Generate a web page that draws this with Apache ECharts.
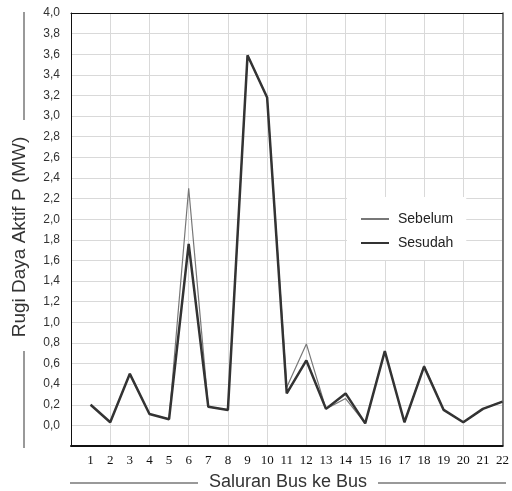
<!DOCTYPE html>
<html>
<head>
<meta charset="utf-8">
<script src="https://cdn.jsdelivr.net/npm/echarts@6/dist/echarts.min.js"></script>
<style>
html,body{margin:0;padding:0;background:#fff;}
#chart{width:512px;height:491px;}
</style>
</head>
<body>
<div id="chart"></div>
<script>
const categories = ['', '1','2','3','4','5','6','7','8','9','10','11','12','13','14','15','16','17','18','19','20','21','22'];
const sebelum = [null, 0.20, 0.03, 0.50, 0.11, 0.06, 2.30, 0.18, 0.15, 3.59, 3.18, 0.37, 0.79, 0.16, 0.26, 0.02, 0.72, 0.03, 0.58, 0.15, 0.03, 0.16, 0.23];
const sesudah = [null, 0.20, 0.03, 0.50, 0.11, 0.06, 1.76, 0.18, 0.15, 3.59, 3.18, 0.31, 0.63, 0.16, 0.31, 0.02, 0.72, 0.03, 0.57, 0.15, 0.03, 0.16, 0.23];
const seriesNames = ['Sebelum', 'Sesudah'];
const yTitle = 'Rugi Daya Aktif P (MW)';
const xTitle = 'Saluran Bus ke Bus';

const chart = echarts.init(document.getElementById('chart'));
chart.setOption({
  animation: false,
  backgroundColor: '#fff',
  grid: {left: 71, right: 6, top: 13, bottom: 45},
  legend: {
    orient: 'vertical', left: 347, top: 197,
    backgroundColor: '#fff',
    padding: [15, 13, 10, 13],
    itemWidth: 28, itemHeight: 14, itemGap: 10,
    itemStyle: {opacity: 0},
    textStyle: {fontFamily: 'Liberation Sans', fontSize: 14, color: '#222', padding: [0,0,0,4]},
    data: seriesNames
  },
  xAxis: [{
    type: 'category', data: categories, boundaryGap: false,
    axisLine: {onZero: false, lineStyle: {color: '#111', width: 2}},
    axisTick: {show: false},
    axisLabel: {interval: 0, fontFamily: 'Liberation Serif', fontSize: 13, color: '#111', margin: 8},
    splitLine: {show: true, interval: function (i) { return i % 2 === 0; }, lineStyle: {color: '#d9d9d9', width: 1}}
  }, {
    type: 'category', data: categories, boundaryGap: false, position: 'top',
    axisLine: {onZero: false, lineStyle: {color: '#111', width: 1}},
    axisTick: {show: false}, axisLabel: {show: false}, splitLine: {show: false}
  }],
  yAxis: [{
    type: 'value', min: -0.2, max: 4.0, interval: 0.2,
    axisLine: {show: true, onZero: false, lineStyle: {color: '#111', width: 1}},
    axisTick: {show: false},
    axisLabel: {
      fontFamily: 'Liberation Sans', fontSize: 12, color: '#333', margin: 11,
      formatter: function (v) { return v < -0.05 ? '' : v.toFixed(1).replace('.', ','); }
    },
    splitLine: {show: true, lineStyle: {color: '#d9d9d9', width: 1}}
  }, {
    type: 'value', min: -0.2, max: 4.0, interval: 0.2, position: 'right',
    axisLine: {show: true, onZero: false, lineStyle: {color: '#555', width: 1.5}},
    axisTick: {show: false}, axisLabel: {show: false}, splitLine: {show: false}
  }],
  graphic: [
    {type: 'text', x: 20, y: 237, rotation: Math.PI / 2,
     style: {text: yTitle, font: '19px "Liberation Sans"', fill: '#333', align: 'center', verticalAlign: 'middle'}},
    {type: 'line', shape: {x1: 24, y1: 12, x2: 24, y2: 120}, style: {stroke: '#777', lineWidth: 1.5}},
    {type: 'line', shape: {x1: 24, y1: 351, x2: 24, y2: 448}, style: {stroke: '#777', lineWidth: 1.5}},
    {type: 'text', x: 288, y: 482,
     style: {text: xTitle, font: '18px "Liberation Sans"', fill: '#333', align: 'center', verticalAlign: 'middle'}},
    {type: 'line', shape: {x1: 70, y1: 483, x2: 198, y2: 483}, style: {stroke: '#777', lineWidth: 1.5}},
    {type: 'line', shape: {x1: 378, y1: 483, x2: 506, y2: 483}, style: {stroke: '#777', lineWidth: 1.5}}
  ],
  series: [
    {name: seriesNames[0], type: 'line', data: sebelum, symbol: 'none',
     lineStyle: {color: '#777', width: 1.2}, itemStyle: {color: '#777'}, z: 2},
    {name: seriesNames[1], type: 'line', data: sesudah, symbol: 'none',
     lineStyle: {color: '#333', width: 2.5}, itemStyle: {color: '#333'}, z: 3}
  ]
});
</script>
</body>
</html>
